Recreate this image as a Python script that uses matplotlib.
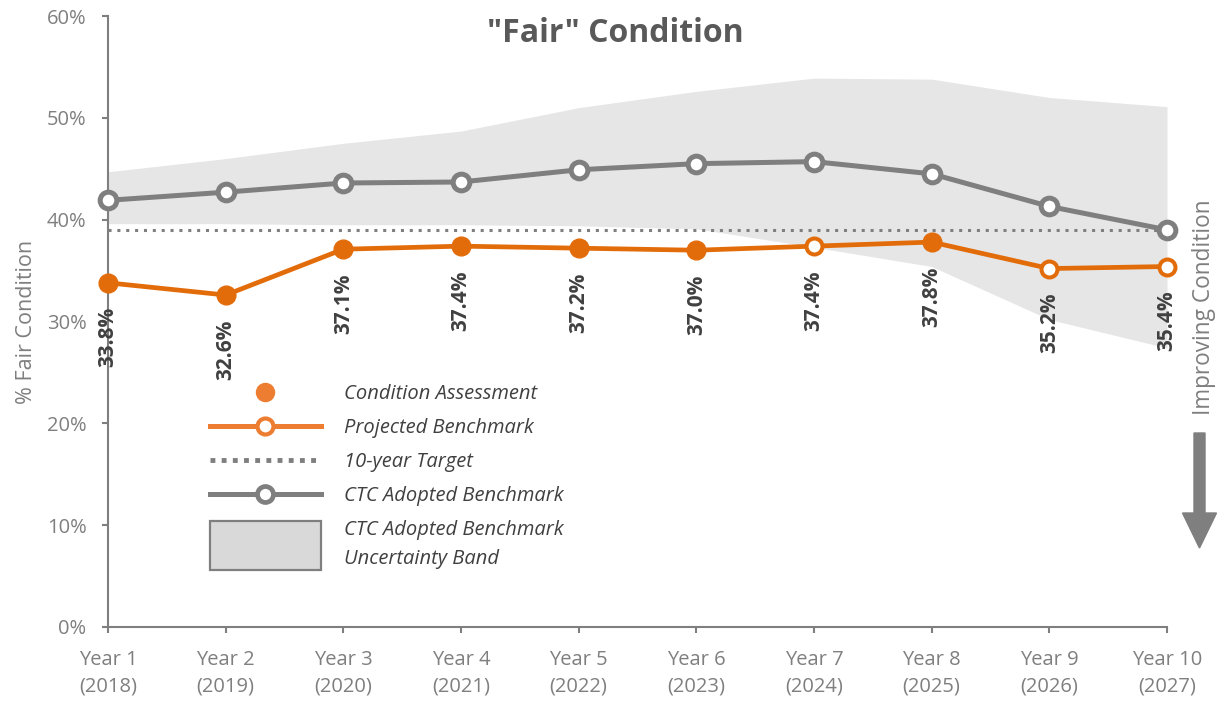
import matplotlib
matplotlib.use("Agg")
import matplotlib.pyplot as plt
import numpy as np
from matplotlib.lines import Line2D
from matplotlib.patches import Patch, Rectangle, FancyArrow
from matplotlib.legend_handler import HandlerPatch
from matplotlib.ticker import PercentFormatter, FixedLocator

plt.rcParams['font.family'] = ['Open Sans', 'DejaVu Sans']

# ---------------- data ----------------
year_labels = ["Year 1\n(2018)", "Year 2\n(2019)", "Year 3\n(2020)", "Year 4\n(2021)",
               "Year 5\n(2022)", "Year 6\n(2023)", "Year 7\n(2024)", "Year 8\n(2025)",
               "Year 9\n(2026)", "Year 10\n(2027)"]
fair_condition = [33.8, 32.6, 37.1, 37.4, 37.2, 37.0, 37.4, 37.8, 35.2, 35.4]
is_assessment = [True, True, True, True, True, True, False, True, False, False]
ctc_benchmark = [41.9, 42.7, 43.6, 43.7, 44.9, 45.5, 45.7, 44.5, 41.3, 39.0]
band_upper = [44.7, 46.0, 47.5, 48.7, 51.0, 52.6, 53.9, 53.8, 52.0, 51.1]
band_lower = [39.6, 39.6, 39.5, 39.5, 39.4, 39.1, 37.3, 35.4, 30.2, 27.4]
target_10yr = 39.0
y_ticks = [0, 10, 20, 30, 40, 50, 60]

ORANGE = '#E36C0A'
ORANGE_LEG = '#ED7D31'
GRAY = '#7F7F7F'
BAND = '#E6E6E6'
TXT_DARK = '#404040'

W, H = 1221, 705
fig = plt.figure(figsize=(W / 100, H / 100), dpi=100)
ax = fig.add_axes([108 / W, 78 / H, 1059 / W, 611 / H])

x = np.arange(1, len(year_labels) + 1)
assess = np.array(is_assessment)
fc = np.array(fair_condition)

# uncertainty band
ax.fill_between(x, band_lower, band_upper, color=BAND, lw=0, zorder=1)
# 10-year target
ax.axhline(target_10yr, color=GRAY, lw=2.2, linestyle=(0, (1.0, 1.9)), zorder=2)
# CTC adopted benchmark
ax.plot(x, ctc_benchmark, color=GRAY, lw=3.6, marker='o', ms=12, mfc='white',
        mec=GRAY, mew=3.6, zorder=3, clip_on=False)
# orange line
ax.plot(x, fc, color=ORANGE, lw=3.4, zorder=4, clip_on=False)
ax.plot(x[assess], fc[assess], ls='none', marker='o', ms=13.5, mfc=ORANGE, mec=ORANGE,
        mew=1, zorder=5, clip_on=False)
ax.plot(x[~assess], fc[~assess], ls='none', marker='o', ms=11.5, mfc='white', mec=ORANGE,
        mew=2.9, zorder=5, clip_on=False)

# data labels
for xi, v in zip(x, fc):
    ax.annotate(f"{v:.1f}%", (xi, v), xytext=(0, -17.5), textcoords='offset points',
                rotation=90, ha='center', va='top', fontsize=15, fontweight='bold',
                color=TXT_DARK, zorder=6)

# axes styling
ax.set_xlim(1, 10)
ax.set_ylim(0, 60)
ax.xaxis.set_major_locator(FixedLocator(x))
ax.set_xticklabels(year_labels, linespacing=1.45)
ax.yaxis.set_major_locator(FixedLocator(y_ticks))
ax.yaxis.set_major_formatter(PercentFormatter(decimals=0))
for s in ['top', 'right']:
    ax.spines[s].set_visible(False)
for s in ['left', 'bottom']:
    ax.spines[s].set_color(GRAY)
    ax.spines[s].set_linewidth(1.5)
ax.tick_params(axis='both', colors=GRAY, labelcolor=GRAY, width=1.5, length=4.5,
               labelsize=14.5)
ax.tick_params(axis='y', pad=11)
ax.tick_params(axis='x', pad=12)

ax.set_ylabel("% Fair Condition", fontsize=15.5, color=GRAY)
ax.yaxis.set_label_coords(-0.067, 0.5)

fig.suptitle('"Fair" Condition', x=615 / W, y=1 - 34 / H, va='center', ha='center',
             fontsize=23, fontweight='bold', color='#595959')

# legend
def tall_rect(legend, orig_handle, xdescent, ydescent, width, height, fontsize):
    hh = 2.45 * fontsize
    cy = -ydescent + height / 2
    return Rectangle((-xdescent, cy - hh / 2), width, hh)

handles = [
    Line2D([], [], ls='none', marker='o', ms=13, mfc=ORANGE_LEG, mec=ORANGE_LEG),
    Line2D([], [], color=ORANGE_LEG, lw=3.6, marker='o', ms=11.5, mfc='white',
           mec=ORANGE_LEG, mew=3.0),
    Line2D([], [], color=GRAY, lw=3.5, linestyle=(0, (1.0, 1.3))),
    Line2D([], [], color=GRAY, lw=3.6, marker='o', ms=11.5, mfc='white', mec=GRAY, mew=3.4),
    Patch(facecolor='#D9D9D9', edgecolor=GRAY, lw=1.6),
]
labels = ["Condition Assessment", "Projected Benchmark", "10-year Target",
          "CTC Adopted Benchmark", "CTC Adopted Benchmark\nUncertainty Band"]
leg = ax.legend(handles, labels, loc='upper left', bbox_to_anchor=(0.0963, 0.3977),
                frameon=False, borderpad=0, borderaxespad=0, numpoints=1,
                handlelength=5.5, handletextpad=1.15, labelspacing=0.7,
                prop={'style': 'italic', 'size': 14.5}, labelcolor=TXT_DARK,
                handler_map={Patch: HandlerPatch(patch_func=tall_rect)})
for t in leg.get_texts():
    t.set_linespacing(1.6)

# improving condition annotation
fig.text(1204 / W, 1 - 307 / H, "Improving Condition", rotation=90, ha='center',
         va='center', fontsize=16.3, color=GRAY)
arrow = FancyArrow(11.995, (H - 433) / 100, 0, -1.15, width=0.11, head_width=0.34,
                   head_length=0.35, length_includes_head=True, color=GRAY,
                   transform=fig.dpi_scale_trans)
fig.patches.append(arrow)

fig.savefig("out.png", dpi=100)
